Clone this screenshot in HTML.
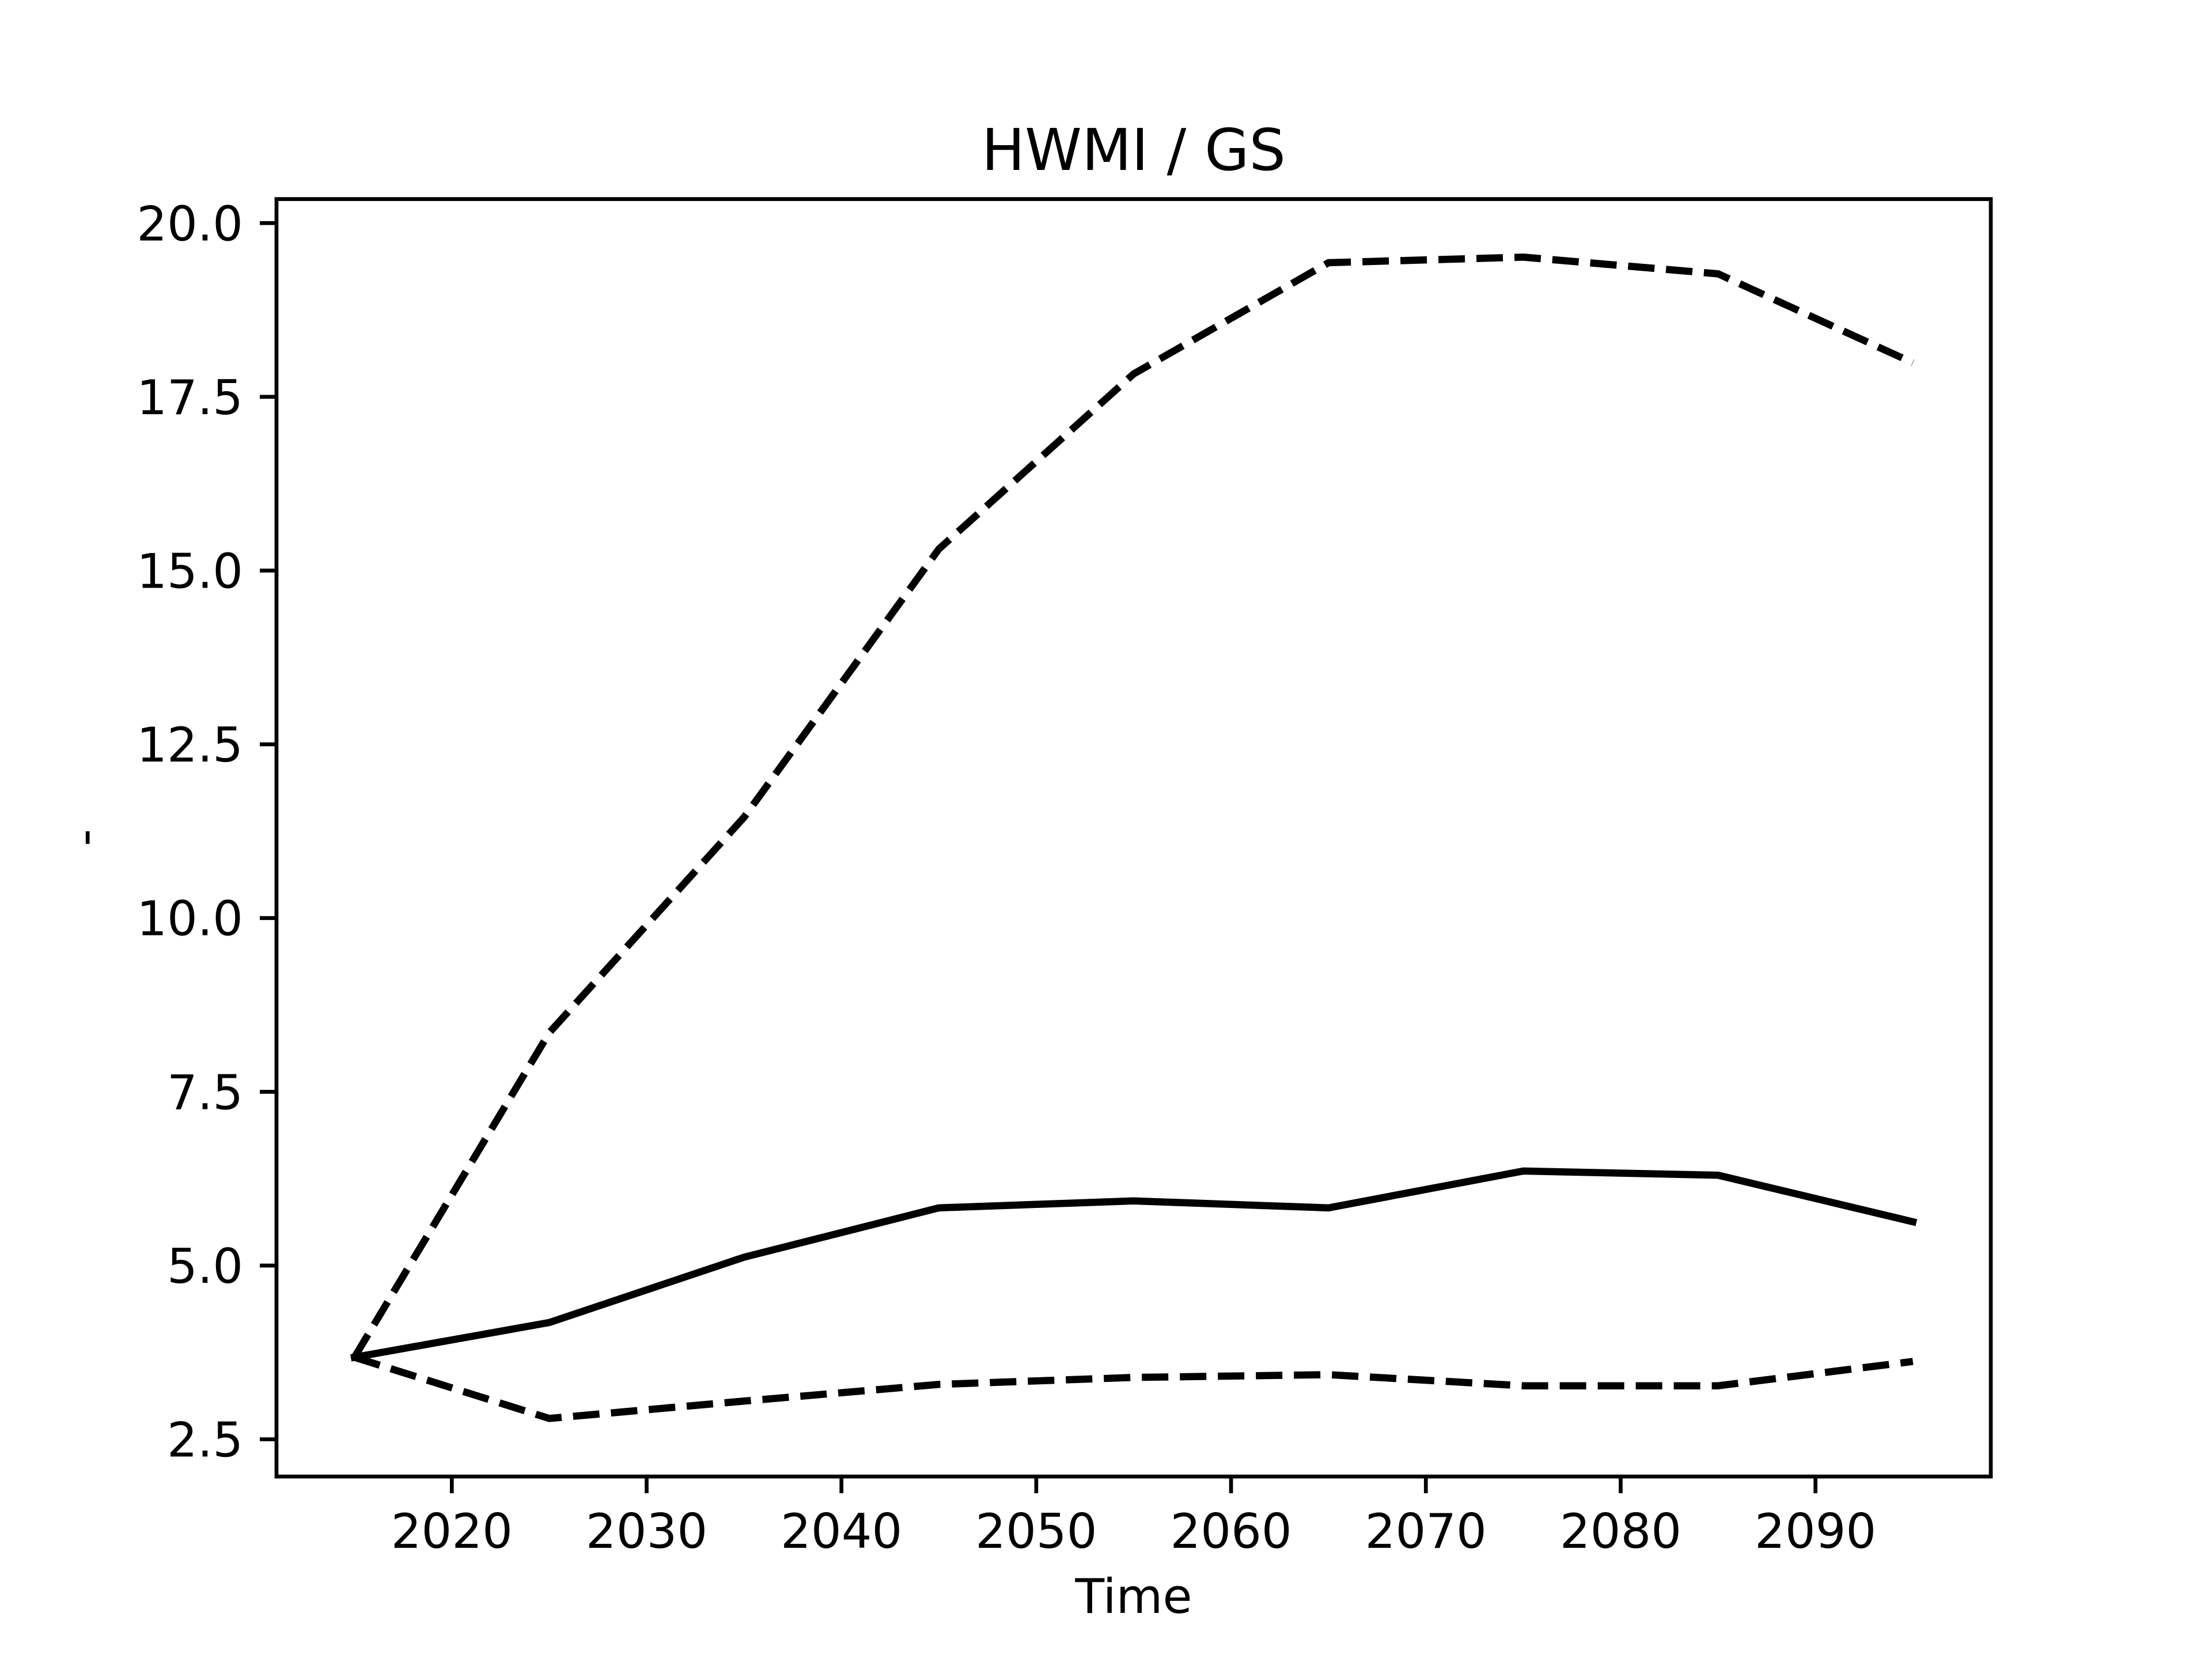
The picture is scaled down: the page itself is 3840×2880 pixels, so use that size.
<!DOCTYPE html>
<html><head><meta charset="utf-8"><style>
html,body{margin:0;padding:0;background:#fff}
svg{display:block}
text{font-family:"DejaVu Sans","Liberation Sans",sans-serif;fill:#000}
</style></head><body>
<svg id="chart" width="3840" height="2880" viewBox="0 0 3840 2880" xmlns="http://www.w3.org/2000/svg">
<rect width="3840" height="2880" fill="#fff"/>
<text x="1968" y="295" font-size="100" text-anchor="middle">HWMI / GS</text>
<text x="1968" y="2800" font-size="83" text-anchor="middle">Time</text>
<text x="175" y="1454" font-size="83" text-anchor="middle" transform="rotate(-90 175 1454)">-</text>
<g id="plot"></g>
<rect x="480" y="345.6" width="2976" height="2217.6" fill="none" stroke="#000" stroke-width="6.7"/>
</svg>
<script>
const years = [2015,2025,2035,2045,2055,2065,2075,2085,2095];
const meanSeries = [3.68,4.18,5.12,5.83,5.93,5.83,6.36,6.30,5.63];
const upperSeries = [3.68,8.35,11.45,15.31,17.83,19.43,19.51,19.27,17.99];
const lowerSeries = [3.68,2.80,3.05,3.29,3.39,3.43,3.27,3.27,3.62];
const xTicks = [2020,2030,2040,2050,2060,2070,2080,2090];
const yTicks = [2.5,5.0,7.5,10.0,12.5,15.0,17.5,20.0];

const L=480,R=3456,T=345.6,B=2563.2;
const xmin0=Math.min(...years),xmax0=Math.max(...years),xm=(xmax0-xmin0)*0.05;
const all=meanSeries.concat(upperSeries,lowerSeries);
const ymin0=Math.min(...all),ymax0=Math.max(...all),ym=(ymax0-ymin0)*0.05;
const X=v=>L+(v-(xmin0-xm))/((xmax0+xm)-(xmin0-xm))*(R-L);
const Y=v=>B-(v-(ymin0-ym))/((ymax0+ym)-(ymin0-ym))*(B-T);
const NS="http://www.w3.org/2000/svg";
const g=document.getElementById('plot');
function mk(t,a){const e=document.createElementNS(NS,t);for(const k in a)e.setAttribute(k,a[k]);g.appendChild(e);return e;}
xTicks.forEach(v=>{
  const l=mk('line',{x1:X(v),x2:X(v),y1:B,y2:B+29,stroke:'#000','stroke-width':6.7});
  
  
  const t=mk('text',{x:X(v),y:B+29+29+66,'font-size':83,'text-anchor':'middle'});
  t.textContent=v;
  
  
});
yTicks.forEach(v=>{
  const l=mk('line',{x1:L-29,x2:L,y1:Y(v),y2:Y(v),stroke:'#000','stroke-width':6.7});
  
  
  const t=mk('text',{x:L-29-29,y:Y(v)+30,'font-size':83,'text-anchor':'end'});
  t.textContent=v.toFixed(1);
  
  
});
function line(arr,dash,name){
  const p=mk('polyline',{points:arr.map((v,i)=>X(years[i])+','+Y(v)).join(' '),fill:'none',stroke:'#000','stroke-width':12.5,'stroke-linejoin':'round','stroke-linecap':dash?'butt':'square'});
  if(dash)p.setAttribute('stroke-dasharray','46 20');
  
  
}
line(meanSeries,false,'mean-line');
line(upperSeries,true,'upper-bound-line');
line(lowerSeries,true,'lower-bound-line');
</script>
</body></html>
